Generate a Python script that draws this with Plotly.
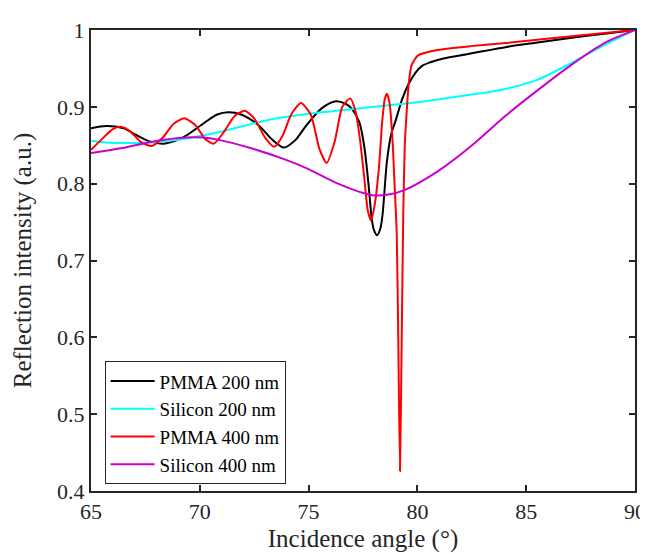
import plotly.graph_objects as go

# PMMA 200 nm
pmma200_x = [65, 65.7, 66.5, 67.1, 67.7, 68.3, 68.9, 69.4, 70.2, 70.8, 71.3, 71.9, 72.7, 73.3, 73.87,
             74.4, 74.9, 75.6, 76.2, 76.7, 77.0, 77.33, 77.55, 77.75, 77.9, 78.0, 78.15, 78.3, 78.4,
             78.6, 78.8, 79.0, 79.3, 79.6, 79.9, 80.2, 80.6, 81.2, 82.4, 84.1, 85.6, 87.1, 88.6, 90]
pmma200_y = [0.872, 0.875, 0.872, 0.863, 0.855, 0.852, 0.856, 0.863, 0.879, 0.890, 0.893, 0.890, 0.876,
             0.858, 0.847, 0.857, 0.876, 0.898, 0.907, 0.904, 0.897, 0.880, 0.850, 0.800, 0.755, 0.740,
             0.733, 0.742, 0.760, 0.829, 0.865, 0.882, 0.910, 0.930, 0.944, 0.953, 0.958, 0.963, 0.969,
             0.978, 0.984, 0.990, 0.995, 1.0]

# Silicon 200 nm
si200_x = [65, 66, 67, 68, 69, 70, 71, 72, 73, 74, 75, 76, 77, 78, 79, 80, 81, 82.5, 84, 85.5, 87, 88.5, 90]
si200_y = [0.856, 0.853, 0.853, 0.854, 0.857, 0.862, 0.868, 0.875, 0.882, 0.887, 0.891, 0.894, 0.897,
           0.900, 0.903, 0.906, 0.910, 0.916, 0.923, 0.935, 0.956, 0.979, 1.0]

# PMMA 400 nm
pmma400_x = [65, 65.5, 66.0, 66.37, 66.8, 67.3, 67.79, 68.3, 68.8, 69.29, 69.8, 70.25, 70.64, 71.1, 71.6,
             72.07, 72.5, 73.0, 73.42, 73.8, 74.2, 74.65, 75.1, 75.5, 75.83, 76.2, 76.55, 76.91, 77.15,
             77.35, 77.55, 77.72, 77.87, 78.05, 78.23, 78.38, 78.5, 78.6, 78.72, 78.85, 78.95, 79.05,
             79.12, 79.2, 79.28, 79.35, 79.42, 79.5, 79.6, 79.73, 80.03, 80.93, 82.43, 84.08, 87.09, 90]
pmma400_y = [0.844, 0.858, 0.871, 0.874, 0.868, 0.854, 0.849, 0.860, 0.878, 0.885, 0.876, 0.858, 0.852,
             0.867, 0.888, 0.895, 0.885, 0.860, 0.848, 0.862, 0.890, 0.905, 0.890, 0.845, 0.827, 0.855,
             0.900, 0.911, 0.895, 0.860, 0.810, 0.765, 0.752, 0.775, 0.820, 0.880, 0.910, 0.917, 0.905,
             0.860, 0.800, 0.735, 0.600, 0.426, 0.600, 0.760, 0.850, 0.890, 0.930, 0.954, 0.967, 0.974,
             0.979, 0.983, 0.992, 1.0]

# Silicon 400 nm
si400_x = [65, 66.37, 67.87, 69.37, 70.12, 70.87, 72.37, 73.87, 74.92, 76.43, 77.93, 78.68, 79.43,
           80.93, 82.43, 84.08, 85.59, 87.09, 88.59, 90]
si400_y = [0.840, 0.846, 0.855, 0.860, 0.860, 0.857, 0.846, 0.832, 0.820, 0.799, 0.785, 0.786, 0.792,
           0.816, 0.848, 0.889, 0.923, 0.955, 0.983, 1.0]

series = [
    ("PMMA 200 nm", pmma200_x, pmma200_y, "#000000", 0.8),
    ("Silicon 200 nm", si200_x, si200_y, "#00FFFF", 0.8),
    ("PMMA 400 nm", pmma400_x, pmma400_y, "#FF0000", 0.6),
    ("Silicon 400 nm", si400_x, si400_y, "#CC00CC", 0.8),
]

x_ticks = [65, 70, 75, 80, 85, 90]
y_ticks = [0.4, 0.5, 0.6, 0.7, 0.8, 0.9, 1.0]
y_tick_text = ["0.4", "0.5", "0.6", "0.7", "0.8", "0.9", "1"]

fig = go.Figure()
for name, xs, ys, color, sm in series:
    fig.add_trace(go.Scatter(x=xs, y=ys, mode="lines", name=name,
                             line=dict(color=color, width=2, shape="spline", smoothing=sm)))

axis_col = "#262626"
font_fam = "Liberation Serif"

fig.update_layout(
    width=648, height=554,
    margin=dict(l=83, r=10, t=17, b=71),
    paper_bgcolor="white", plot_bgcolor="white",
    font=dict(family=font_fam, color=axis_col, size=22),
    showlegend=True,
    legend=dict(x=0.025, y=0.148, xanchor="left", yanchor="middle",
                bgcolor="white", bordercolor=axis_col, borderwidth=1,
                font=dict(family=font_fam, size=19, color="#000000"),
                tracegroupgap=0, itemwidth=44),
)
fig.update_xaxes(range=[65, 90], tickvals=x_ticks, ticks="inside", ticklen=6, tickwidth=1.5,
                 tickcolor=axis_col, showline=True, linecolor=axis_col, linewidth=2, mirror="ticks",
                 showgrid=False, zeroline=False,
                 tickfont=dict(family=font_fam, size=22, color=axis_col),
                 title=dict(text="Incidence angle (°)", font=dict(family=font_fam, size=25, color=axis_col), standoff=6))
fig.update_yaxes(range=[0.4, 1.0], tickvals=y_ticks, ticktext=y_tick_text, ticks="inside", ticklen=6,
                 tickwidth=1.5, tickcolor=axis_col, showline=True, linecolor=axis_col, linewidth=2,
                 mirror="ticks", showgrid=False, zeroline=False,
                 tickfont=dict(family=font_fam, size=22, color=axis_col),
                 title=dict(text="Reflection intensity (a.u.)", font=dict(family=font_fam, size=25, color=axis_col), standoff=18))

fig.write_html("out.html")
